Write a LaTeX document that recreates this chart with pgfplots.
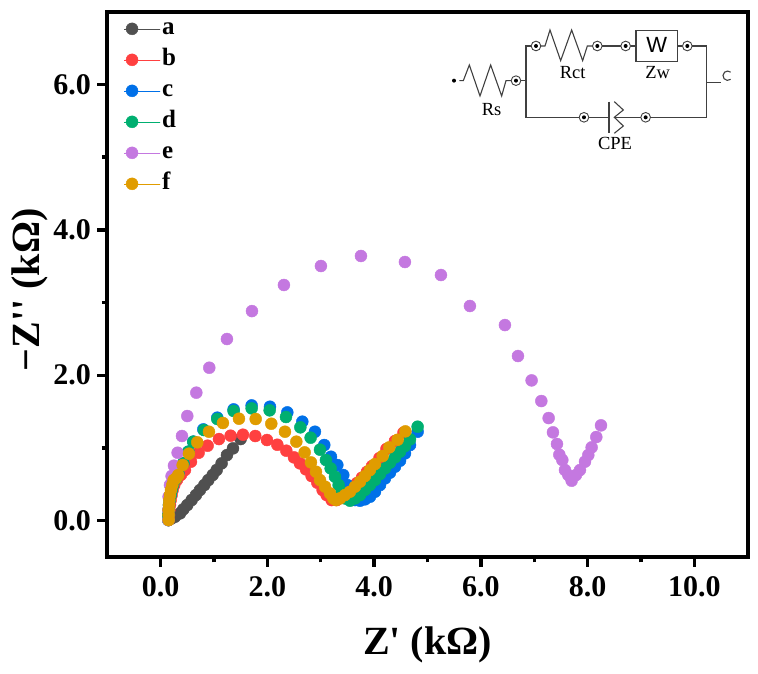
\documentclass[border=0pt]{standalone}
\usepackage{fontspec}
\setmainfont{Liberation Serif}
\newfontfamily\plainserif{Liberation Serif}
\newfontfamily\sansf{Liberation Sans}
\usepackage{pgfplots}
\pgfplotsset{compat=1.18}

\definecolor{ca}{HTML}{505050}
\definecolor{cb}{HTML}{FF4040}
\definecolor{cc}{HTML}{0070E8}
\definecolor{cd}{HTML}{00AF70}
\definecolor{ce}{HTML}{C478E0}
\definecolor{cf}{HTML}{E09C00}

\begin{document}
\begin{tikzpicture}
\path (0,0) rectangle (758pt,674pt);
\begin{axis}[
    at={(107.3pt,117pt)}, anchor=south west,
    scale only axis,
    width=640.4pt, height=545.3pt,
    xmin=-1, xmax=11, ymin=-0.5, ymax=7,
    xtick={0,2,4,6,8,10}, ytick={0,2,4,6},
    minor x tick num=1, minor y tick num=1,
    xtick pos=bottom, ytick pos=left,
    tick align=outside,
    major tick length=10pt, minor tick length=5.5pt,
    every tick/.style={black,line width=3.4pt},
    axis line style={line width=3.8pt},
    tick label style={font=\fontsize{30}{30}\selectfont\bfseries,
        /pgf/number format/assume math mode=true,
        /pgf/number format/fixed, /pgf/number format/fixed zerofill, /pgf/number format/precision=1},
    xticklabel style={yshift=-6pt},
    yticklabel style={xshift=-3pt},
    every axis x label/.style={at={(axis description cs:0.5,-0.161)},anchor=center},
    every axis y label/.style={at={(axis description cs:-0.1207,0.49)},anchor=center,rotate=90},
    label style={font=\plainserif\fontsize{40}{40}\selectfont\bfseries},
    ylabel={−Z'' (kΩ)},
    xlabel={Z' (kΩ)},
    legend style={draw=none,fill=none,at={(axis cs:-0.75,6.98)},anchor=north west,
        font=\fontsize{25}{25}\selectfont\bfseries,
        nodes={text height=17pt,text depth=6pt},row sep=4pt},
    legend cell align=left,
    legend image code/.code={
        \path (0pt,0pt) rectangle (36pt,0pt);
        \draw[mark repeat=1,mark phase=1,#1] plot coordinates {(8pt,0pt)};
    },
    clip=false,
]
\addplot[only marks,mark=*,mark size=6pt,color=ca,mark options={fill=ca,draw=none}] coordinates {
(0.149,0.008)(0.205,0.031)(0.268,0.054)(0.362,0.100)(0.424,0.155)(0.499,0.215)(0.580,0.283)(0.661,0.352)(0.736,0.421)(0.818,0.490)(0.893,0.558)(0.974,0.627)(1.049,0.696)(1.142,0.788)(1.242,0.902)(1.355,0.994)(1.498,1.122)};
\addplot[only marks,mark=*,mark size=6pt,color=cb,mark options={fill=cb,draw=none}] coordinates {
(0.149,0.008)(0.156,0.077)(0.162,0.146)(0.174,0.215)(0.187,0.283)(0.205,0.352)(0.224,0.421)(0.255,0.490)(0.305,0.560)(0.380,0.630)(0.455,0.696)(0.568,0.811)(0.711,0.934)(0.880,1.031)(1.092,1.122)(1.311,1.168)(1.542,1.182)(1.773,1.164)(1.992,1.109)(2.186,1.044)(2.354,0.962)(2.498,0.870)(2.610,0.788)(2.723,0.705)(2.829,0.613)(2.935,0.522)(3.035,0.421)(3.110,0.352)(3.204,0.283)(3.300,0.283)(3.390,0.330)(3.485,0.385)(3.580,0.445)(3.675,0.515)(3.770,0.590)(3.865,0.670)(3.960,0.750)(4.100,0.860)(4.230,0.985)(4.390,1.095)(4.550,1.210)};
\addplot[only marks,mark=*,mark size=6pt,color=cc,mark options={fill=cc,draw=none}] coordinates {
(0.143,0.008)(0.143,0.077)(0.149,0.146)(0.156,0.215)(0.168,0.283)(0.187,0.352)(0.205,0.421)(0.230,0.490)(0.280,0.570)(0.330,0.650)(0.424,0.788)(0.518,0.948)(0.612,1.086)(0.799,1.255)(1.061,1.416)(1.367,1.530)(1.705,1.585)(2.048,1.567)(2.373,1.489)(2.654,1.361)(2.891,1.223)(3.066,1.040)(3.191,0.879)(3.310,0.765)(3.422,0.627)(3.497,0.490)(3.560,0.375)(3.641,0.283)(3.735,0.274)(3.828,0.293)(3.922,0.329)(4.016,0.398)(4.110,0.490)(4.203,0.581)(4.297,0.660)(4.391,0.742)(4.485,0.824)(4.578,0.925)(4.672,1.040)(4.815,1.223)};
\addplot[only marks,mark=*,mark size=6pt,color=cd,mark options={fill=cd,draw=none}] coordinates {
(0.143,0.008)(0.143,0.077)(0.149,0.146)(0.156,0.215)(0.168,0.283)(0.187,0.352)(0.205,0.421)(0.230,0.490)(0.280,0.570)(0.330,0.650)(0.424,0.788)(0.518,0.948)(0.612,1.086)(0.811,1.246)(1.061,1.398)(1.367,1.508)(1.705,1.544)(2.042,1.517)(2.348,1.425)(2.617,1.283)(2.810,1.141)(2.985,0.976)(3.097,0.834)(3.185,0.719)(3.266,0.604)(3.335,0.490)(3.391,0.398)(3.453,0.306)(3.547,0.274)(3.641,0.306)(3.735,0.352)(3.828,0.421)(3.922,0.490)(4.016,0.558)(4.110,0.641)(4.203,0.719)(4.297,0.797)(4.391,0.870)(4.485,0.948)(4.578,1.026)(4.672,1.118)(4.815,1.292)};
\addplot[only marks,mark=*,mark size=6pt,color=ce,mark options={fill=ce,draw=none}] coordinates {
(0.143,0.008)(0.143,0.146)(0.149,0.329)(0.174,0.490)(0.205,0.613)(0.249,0.756)(0.318,0.934)(0.399,1.164)(0.499,1.439)(0.668,1.760)(0.911,2.103)(1.242,2.498)(1.711,2.882)(2.310,3.241)(3.003,3.502)(3.753,3.640)(4.577,3.557)(5.252,3.378)(5.795,2.952)(6.451,2.690)(6.695,2.264)(6.951,1.929)(7.133,1.645)(7.270,1.411)(7.351,1.214)(7.426,1.054)(7.470,0.907)(7.526,0.834)(7.576,0.696)(7.639,0.627)(7.701,0.549)(7.782,0.627)(7.857,0.696)(7.951,0.811)(8.013,0.902)(8.076,1.008)(8.163,1.150)(8.251,1.310)};
\addplot[only marks,mark=*,mark size=6pt,color=cf,mark options={fill=cf,draw=none}] coordinates {
(0.149,0.008)(0.149,0.077)(0.149,0.146)(0.156,0.215)(0.162,0.283)(0.174,0.352)(0.193,0.421)(0.218,0.490)(0.243,0.558)(0.287,0.581)(0.330,0.627)(0.412,0.765)(0.530,0.921)(0.686,1.077)(0.905,1.223)(1.167,1.343)(1.467,1.402)(1.780,1.398)(2.073,1.333)(2.329,1.223)(2.542,1.086)(2.698,0.939)(2.816,0.801)(2.910,0.673)(2.985,0.558)(3.079,0.467)(3.173,0.375)(3.235,0.306)(3.285,0.283)(3.360,0.306)(3.453,0.352)(3.547,0.398)(3.641,0.467)(3.735,0.536)(3.828,0.613)(3.922,0.696)(4.016,0.778)(4.160,0.889)(4.284,1.008)(4.441,1.113)(4.585,1.228)};
\legend{a,b,c,d,e,f}
\end{axis}
% circuit inset, in zoomed pixel units
\begin{scope}[shift={(430pt,654pt)},x=0.3333pt,y=-0.3333pt,line width=1.1pt,draw=black!75]
\def\jn(#1,#2){\draw[line width=0.9pt] (#1,#2) circle[radius=14.5]; \fill[black] (#1,#2) circle[radius=6];}
\fill[black] (72,182) circle[radius=6];
\draw (88,182)--(100,182)--(118,135)--(150,228)--(182,135)--(215,228)--(228,182)--(243,182);
\jn(258,182)
\draw (273,182)--(288,182);
\draw (303,78)--(288,78)--(288,292)--(447,292);
\jn(318,78)
\draw (333,78)--(345,78)--(360,30)--(392,122)--(425,30)--(458,122)--(472,78)--(487,78);
\jn(502,78)
\draw (517,78)--(572,78);
\jn(587,78)
\draw (602,78)--(618,78);
\draw[line width=1.3pt] (618,32) rectangle (742,124);
\draw (742,78)--(757,78);
\jn(772,78)
\draw (787,78)--(830,78)--(830,292)--(662,292);
\draw (830,188)--(873,188);
\draw (902,178) arc[start angle=50,end angle=310,radius=14];
\jn(462,292)
\draw (477,292)--(537,292);
\draw[line width=1.3pt] (537,245)--(537,340);
\draw (553,245)--(580,270)--(553,292)--(580,318)--(553,340);
\draw (553,292)--(632,292);
\jn(647,292)
\node[font=\fontsize{18.5}{18.5}\selectfont] at (185,270) {Rs};
\node[font=\fontsize{18.5}{18.5}\selectfont] at (428,158) {Rct};
\node[font=\fontsize{18.5}{18.5}\selectfont] at (683,158) {Zw};
\node[font=\fontsize{18.5}{18.5}\selectfont] at (555,370) {CPE};
\node[font=\sansf\fontsize{22}{22}\selectfont] at (680,76) {W};
\end{scope}
\end{tikzpicture}
\end{document}
